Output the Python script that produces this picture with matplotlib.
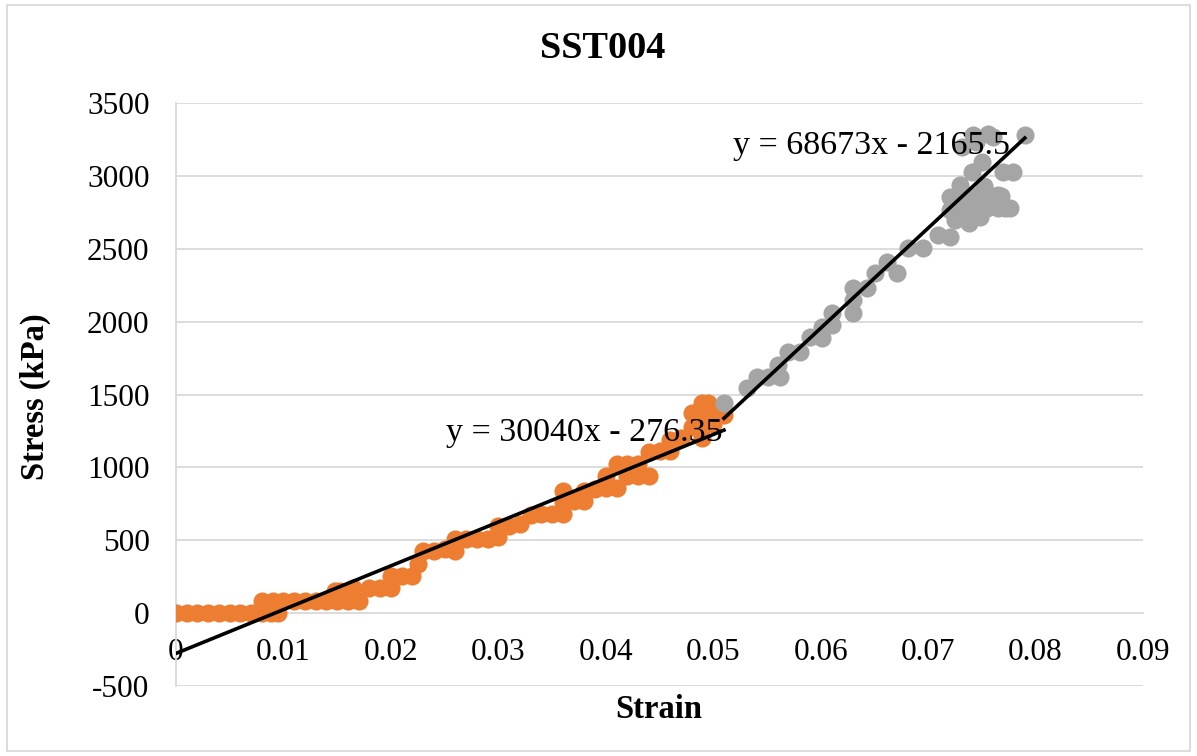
import numpy as np
import matplotlib
matplotlib.use("Agg")
import matplotlib.pyplot as plt
from matplotlib.patches import Rectangle

plt.rcParams['font.family'] = ['Liberation Serif', 'DejaVu Serif']

# Stage 1 readings (orange)
strain_1 = [0.000, 0.001, 0.002, 0.003, 0.004, 0.005, 0.006, 0.007, 0.008, 0.0088, 0.0095,
            0.008, 0.009, 0.010, 0.011, 0.012, 0.013, 0.014, 0.015, 0.016, 0.017,
            0.0148, 0.0153, 0.0165, 0.018, 0.019, 0.020,
            0.020, 0.021, 0.022, 0.0225,
            0.023, 0.024, 0.025, 0.026, 0.026, 0.027, 0.028, 0.029, 0.030, 0.030,
            0.031, 0.032, 0.033, 0.034, 0.035, 0.036, 0.036, 0.036, 0.037, 0.038,
            0.038, 0.039, 0.040, 0.040, 0.041, 0.041, 0.042, 0.042, 0.043, 0.043,
            0.044, 0.044, 0.045, 0.046, 0.046, 0.047, 0.048, 0.048, 0.049, 0.049,
            0.049, 0.0495, 0.0495, 0.050, 0.0505, 0.051]
stress_1 = [0, 0, 0, 0, 0, 0, 0, 0, 0, 0, 0,
            85, 85, 85, 85, 85, 85, 85, 85, 85, 85,
            150, 150, 170, 170, 170, 170,
            255, 255, 255, 340,
            425, 425, 440, 510, 425, 510, 510, 510, 600, 520,
            600, 610, 670, 680, 680, 840, 680, 760, 770, 840,
            770, 850, 940, 860, 1020, 860, 1020, 940, 1020, 940,
            1105, 940, 1110, 1190, 1110, 1200, 1370, 1280, 1445, 1280,
            1200, 1445, 1360, 1300, 1360, 1360]

# Stage 2 readings (grey)
strain_2 = [0.0510, 0.0531, 0.0541, 0.0551, 0.0560, 0.0562, 0.0570, 0.0581, 0.0590, 0.0601,
            0.0601, 0.0611, 0.0611, 0.0630, 0.0630, 0.0630, 0.0643, 0.0651, 0.0662, 0.0671,
            0.0681, 0.0695, 0.0709, 0.0720, 0.0720, 0.0720, 0.0730, 0.0741, 0.0750, 0.0732,
            0.0745, 0.0756, 0.0760, 0.0742, 0.0790, 0.0779, 0.0770, 0.0765, 0.0772, 0.0748,
            0.0725, 0.0735, 0.0745, 0.0755, 0.0765, 0.0730, 0.0740, 0.0750, 0.0760, 0.0768,
            0.0738, 0.0752, 0.0728, 0.0776]
stress_2 = [1445, 1543, 1619, 1619, 1701, 1619, 1790, 1790, 1893, 1886,
            1962, 2058, 1975, 2058, 2147, 2229, 2229, 2332, 2407, 2332,
            2503, 2503, 2593, 2579, 2853, 2764, 2935, 3025, 3093, 3200,
            3230, 3290, 3265, 3278, 3278, 3025, 3025, 2867, 2778, 2716,
            2700, 2780, 2860, 2780, 2780, 2860, 2860, 2780, 2860, 2860,
            2680, 2930, 2830, 2780]

# Linear fits shown on the chart
fit_1 = (30040, -276.35)
fit_2 = (68673, -2165.5)

x_ticks = [0, 0.01, 0.02, 0.03, 0.04, 0.05, 0.06, 0.07, 0.08, 0.09]
x_labels = ['0', '0.01', '0.02', '0.03', '0.04', '0.05', '0.06', '0.07', '0.08', '0.09']
y_ticks = [-500, 0, 500, 1000, 1500, 2000, 2500, 3000, 3500]

fig = plt.figure(figsize=(11.97, 7.56), dpi=100)
ax = fig.add_axes([176 / 1197, 1 - 686 / 756, (1143 - 176) / 1197, (686 - 103) / 756])

grid_c = '#d9d9d9'
for yv in y_ticks:
    if yv != 0:
        ax.axhline(yv, color=grid_c, lw=1.3, zorder=0)

ax.scatter(strain_1, stress_1, s=170, color='#ED7D31', zorder=3, linewidths=0)
ax.scatter(strain_2, stress_2, s=170, color='#A5A5A5', zorder=3, linewidths=0)

for xs, (m, c) in [(strain_1, fit_1), (strain_2, fit_2)]:
    xx = np.array([min(xs), max(xs)])
    ax.plot(xx, m * xx + c, color='black', lw=2.6, zorder=4)

ax.text(0.0380, 1235, 'y = 30040x - 276.35', fontsize=24.5, ha='center', va='center', zorder=5)
ax.text(0.0647, 3210, 'y = 68673x - 2165.5', fontsize=24.5, ha='center', va='center', zorder=5)

ax.set_xlim(0, 0.09)
ax.set_ylim(-500, 3500)
ax.set_xticks(x_ticks)
ax.set_xticklabels(x_labels)
ax.set_yticks(y_ticks)
ax.set_yticklabels([str(v) for v in y_ticks])
ax.tick_params(axis='both', length=0, labelsize=22.5)
ax.tick_params(axis='y', pad=19)
ax.tick_params(axis='x', pad=18)

ax.spines['top'].set_visible(False)
ax.spines['right'].set_visible(False)
ax.spines['bottom'].set_position(('data', 0))
ax.spines['bottom'].set_color(grid_c)
ax.spines['bottom'].set_linewidth(1.3)
ax.spines['left'].set_color(grid_c)
ax.spines['left'].set_linewidth(1.3)

fig.text(603 / 1197, 1 - 48 / 756, 'SST004', fontsize=27.5, fontweight='bold',
         ha='center', va='center')
fig.text(659 / 1197, 1 - 710 / 756, 'Strain', fontsize=23.5, fontweight='bold',
         ha='center', va='center')
fig.text(35 / 1197, 1 - 397 / 756, 'Stress (kPa)', fontsize=23.5, fontweight='bold',
         ha='center', va='center', rotation=90)

fig.patches.append(Rectangle((0.006, 0.006), 0.988, 0.988, transform=fig.transFigure,
                             fill=False, edgecolor=grid_c, lw=1.3))

fig.savefig('out.png', dpi=100)
